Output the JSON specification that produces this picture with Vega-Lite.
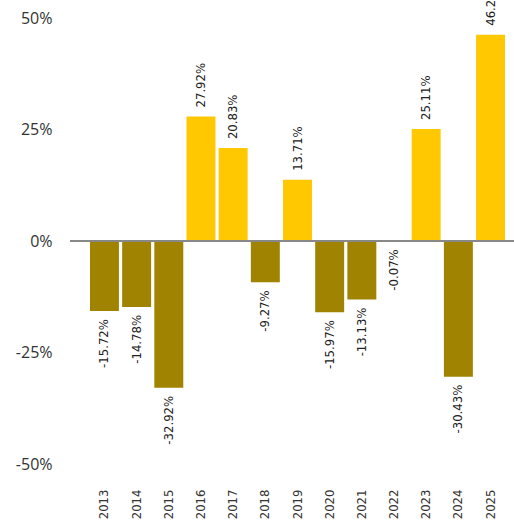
{
  "$schema": "https://vega.github.io/schema/vega-lite/v6.json",
  "width": 444,
  "height": 446,
  "autosize": {"type": "none"},
  "padding": {"left": 70, "top": 18, "right": 0, "bottom": 57},
  "background": "white",
  "config": {
    "view": {"stroke": null},
    "locale": {
      "number": {"decimal": ".", "thousands": ",", "grouping": [3], "currency": ["$", ""], "minus": "-", "percent": "%"}
    }
  },
  "data": {
    "values": [
      {"year": "2013", "value": -0.1572},
      {"year": "2014", "value": -0.1478},
      {"year": "2015", "value": -0.3292},
      {"year": "2016", "value": 0.2792},
      {"year": "2017", "value": 0.2083},
      {"year": "2018", "value": -0.0927},
      {"year": "2019", "value": 0.1371},
      {"year": "2020", "value": -0.1597},
      {"year": "2021", "value": -0.1313},
      {"year": "2022", "value": -0.0007},
      {"year": "2023", "value": 0.2511},
      {"year": "2024", "value": -0.3043},
      {"year": "2025", "value": 0.4624}
    ]
  },
  "encoding": {
    "x": {
      "field": "year",
      "type": "ordinal",
      "scale": {"paddingInner": 0.1, "paddingOuter": 0.45, "align": 0.69},
      "axis": {
        "title": null,
        "labelAngle": -90,
        "ticks": false,
        "tickSize": 0,
        "domain": false,
        "labelPadding": 25,
        "labelFont": "DejaVu Sans Condensed, Roboto Condensed, Roboto",
        "labelFontSize": 13,
        "labelColor": "#333333"
      }
    },
    "y": {
      "field": "value",
      "type": "quantitative",
      "scale": {"domain": [-0.5, 0.5], "nice": false},
      "axis": {
        "title": null,
        "values": [-0.5, -0.25, 0, 0.25, 0.5],
        "format": ".0%",
        "grid": false,
        "ticks": false,
        "tickSize": 0,
        "domain": false,
        "labelPadding": 18,
        "labelFont": "Open Sans",
        "labelFontSize": 16,
        "labelColor": "#333333"
      }
    }
  },
  "layer": [
    {
      "mark": {"type": "bar"},
      "encoding": {
        "color": {
          "condition": {"test": "datum.value >= 0", "value": "#FFC800"},
          "value": "#A08300"
        }
      }
    },
    {
      "mark": {"type": "rule", "color": "#888888", "strokeWidth": 2},
      "encoding": {"y": {"datum": 0}, "x": null}
    },
    {
      "transform": [{"filter": "datum.value >= 0"}],
      "mark": {"type": "text", "angle": 270, "align": "left", "baseline": "middle", "dx": 9, "font": "DejaVu Sans Condensed, Roboto Condensed, Roboto", "fontSize": 13, "color": "#222222"},
      "encoding": {"text": {"field": "value", "type": "quantitative", "format": ".2%"}}
    },
    {
      "transform": [{"filter": "datum.value < 0"}],
      "mark": {"type": "text", "angle": 270, "align": "right", "baseline": "middle", "dx": -8, "font": "DejaVu Sans Condensed, Roboto Condensed, Roboto", "fontSize": 13, "color": "#222222"},
      "encoding": {"text": {"field": "value", "type": "quantitative", "format": ".2%"}}
    }
  ]
}
